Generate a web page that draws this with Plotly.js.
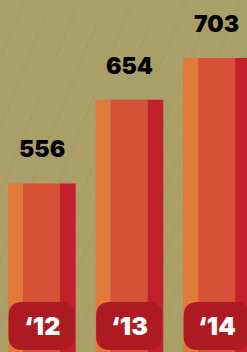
<!DOCTYPE html>
<html>
<head>
<meta charset="utf-8">
<script src="https://cdn.plot.ly/plotly-3.0.1.min.js"></script>
<style>
html,body{margin:0;padding:0;width:247px;height:352px;overflow:hidden;}
body{background-color:#a99f67;
background-image:
 repeating-linear-gradient(118deg, rgba(255,255,255,0) 0px, rgba(255,255,255,0) 13px, rgba(255,255,255,0.035) 14px, rgba(255,255,255,0) 16px),
 repeating-linear-gradient(112deg, rgba(0,0,0,0) 0px, rgba(0,0,0,0) 21px, rgba(0,0,0,0.02) 23px, rgba(0,0,0,0) 25px);}
#chart{width:247px;height:352px;}
</style>
</head>
<body>
<div id="chart"></div>
<script>
const categories = ["‘12", "‘13", "‘14"];
const values = [556, 654, 703];
const valueLabels = ["556", "654", "703"];

const stripes = [
  {color: "#e07a3b", offset: -0.383, width: 0.171},
  {color: "#d65136", offset: -0.212, width: 0.422},
  {color: "#c4202a", offset: 0.21, width: 0.18}
];

const traces = stripes.map(s => ({
  type: "bar",
  x: categories,
  y: values,
  offset: s.offset,
  width: s.width,
  marker: {color: s.color, line: {width: 0}},
  hoverinfo: "skip"
}));

const labelFont = "Inter, 'Open Sans', sans-serif";
const annotations = [];
categories.forEach((c, i) => {
  annotations.push({
    x: c, y: values[i], xref: "x", yref: "y",
    text: valueLabels[i], showarrow: false,
    yanchor: "bottom", yshift: 18,
    font: {family: labelFont, size: 23, color: "#000000", weight: 900}
  });
  annotations.push({
    x: c, y: 0, xref: "x", yref: "paper",
    text: c, showarrow: false,
    yanchor: "middle", yshift: 26,
    font: {family: labelFont, size: 25, color: "#ffffff", weight: 900}
  });
});

const r = 14, w = 33, y0 = 2, y1 = 50;
const badgePath = `M ${-w+r} ${y0} L ${w-r} ${y0} Q ${w} ${y0} ${w} ${y0+r} L ${w} ${y1-r} Q ${w} ${y1} ${w-r} ${y1} L ${-w+r} ${y1} Q ${-w} ${y1} ${-w} ${y1-r} L ${-w} ${y0+r} Q ${-w} ${y0} ${-w+r} ${y0} Z`;

const shapes = categories.map(c => ({
  type: "path",
  xref: "x", yref: "paper",
  xsizemode: "pixel", ysizemode: "pixel",
  xanchor: c, yanchor: 0,
  path: badgePath,
  fillcolor: "#ae1a21",
  line: {width: 0},
  layer: "above"
}));

const layout = {
  width: 247, height: 352,
  margin: {l: 0, r: 0, t: 0, b: 0},
  paper_bgcolor: "rgba(0,0,0,0)",
  plot_bgcolor: "rgba(0,0,0,0)",
  barmode: "overlay",
  showlegend: false,
  xaxis: {type: "category", range: [-0.474, 2.346], visible: false, fixedrange: true},
  yaxis: {range: [358.7, 770.8], visible: false, fixedrange: true},
  annotations: annotations,
  shapes: shapes
};

Plotly.newPlot("chart", traces, layout, {displayModeBar: false, staticPlot: true});
</script>
</body>
</html>
